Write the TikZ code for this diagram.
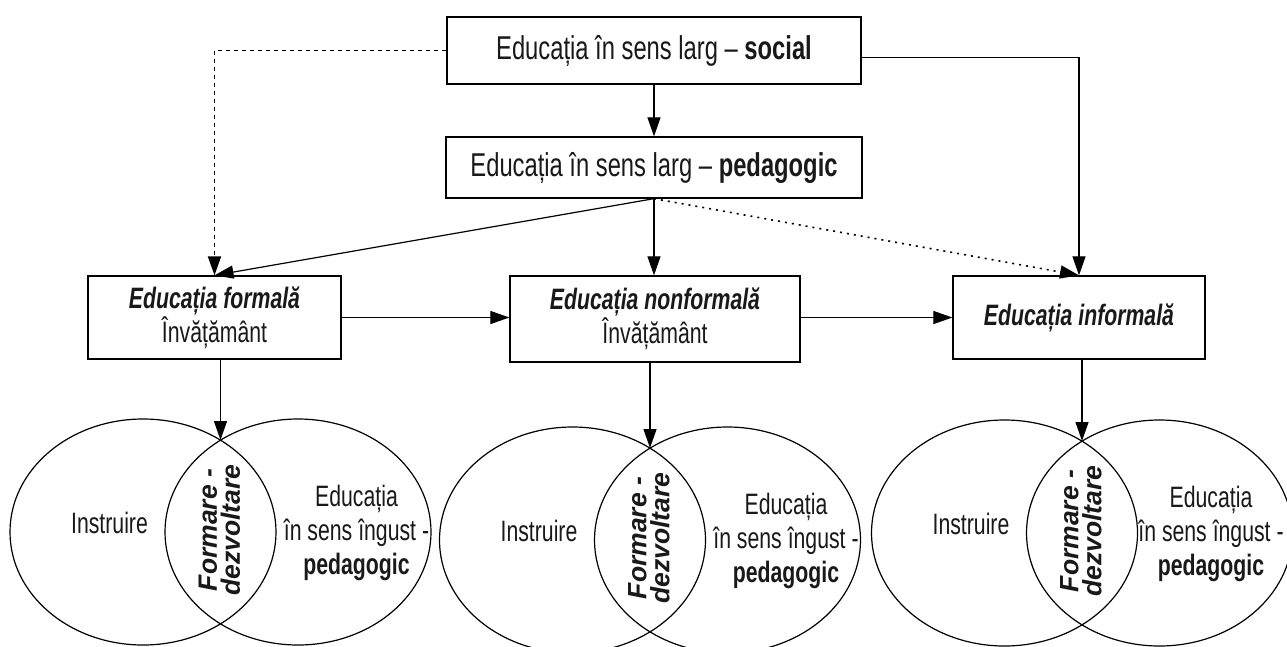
\documentclass[tikz,border=0pt]{standalone}
\usepackage{fontspec}
\setmainfont[FakeStretch=0.72]{Liberation Sans}
\newfontfamily\fdfont{Liberation Sans}
\usetikzlibrary{arrows.meta,calc}

\tikzset{
  box/.style={draw, line width=1.3pt, inner sep=0pt, align=center, text=black!90},
  arr/.style={line width=1.2pt, -{Triangle[length=19pt,width=13pt]}},
  dashedarr/.style={arr, line width=1.8pt, dash pattern=on 4pt off 4pt},
  dottedarr/.style={arr, line width=1.6pt, dash pattern=on 2pt off 5pt},
  vennline/.style={line width=1.2pt},
  big/.style={font=\fontsize{33}{36}\selectfont},
  mid/.style={font=\fontsize{29.5}{34}\selectfont},
  fd/.style={font=\fdfont\fontsize{26.5}{23}\selectfont\bfseries\itshape, rotate=90, align=center, inner sep=0pt, text=black!90},
  vtext/.style={mid, inner sep=0pt, align=center, text=black!90},
}

\newcommand\venngrp[4]{%
  \coordinate (#1) at (#2,#3);
  \coordinate (#1-top) at ($(#1)+(0,-92)$);
  \draw[vennline] ($(#1)+(-77.5,0)$) ellipse [x radius=133pt, y radius=113pt];
  \draw[vennline] ($(#1)+(77.5,0)$) ellipse [x radius=133pt, y radius=113pt];
  \node[vtext, anchor=base] (#1-instr) at ($(#1)+(-111,1)$) {Instruire};
  \node[vtext] (#1-edu) at ($(#1)+(#4,1)$) {Educația\\în sens îngust -\\\textbf{pedagogic}};
  \node[fd] (#1-fd) at ($(#1)+(-1,-2)$) {Formare -\\dezvoltare};
}

\begin{document}
\begin{tikzpicture}[x=1pt, y=-1pt]
  \fill[white] (0,0) rectangle (1287,646);
  \clip (0,0) rectangle (1287,646);

  % boxes
  \node[box, big, minimum width=414pt, minimum height=67pt] (social) at (654,50.5)
       {Educația în sens larg – \textbf{social}};
  \node[box, big, minimum width=416pt, minimum height=61pt] (pedagogic) at (654,167.5)
       {Educația în sens larg – \textbf{pedagogic}};
  \node[box, mid, minimum width=253pt, minimum height=83pt] (formal) at (214.5,317.5)
       {\textbf{\textit{Educația formală}}\\Învățământ};
  \node[box, mid, minimum width=290pt, minimum height=86pt] (nonformal) at (655,319)
       {\textbf{\textit{Educația nonformală}}\\Învățământ};
  \node[box, mid, minimum width=252pt, minimum height=83pt] (informal) at (1079,317.5)
       {\textbf{\textit{Educația informală}}};

  % venn groups
  \venngrp{F}{220.5}{532}{136}
  \venngrp{N}{650}{540}{136}
  \venngrp{I}{1082}{533}{129}

  % connectors
  \draw[dashedarr] (social.west) -| (formal.north);
  \draw[arr] ([yshift=-7pt]social.east) -| (informal.north);
  \draw[arr] (social.south) -- (pedagogic.north);
  \draw[arr] (pedagogic.south) -- (formal.north);
  \draw[arr] (pedagogic.south) -- (pedagogic.south |- nonformal.north);
  \draw[dottedarr] (pedagogic.south) -- (informal.north);
  \draw[arr] (formal.east) -- (formal.east -| nonformal.west);
  \draw[arr] (informal.west -| nonformal.east) -- (informal.west);
  \draw[arr] (formal.south -| F-top) -- (F-top);
  \draw[arr] (nonformal.south -| N-top) -- (N-top);
  \draw[arr] (informal.south -| I-top) -- (I-top);
\end{tikzpicture}
\end{document}
